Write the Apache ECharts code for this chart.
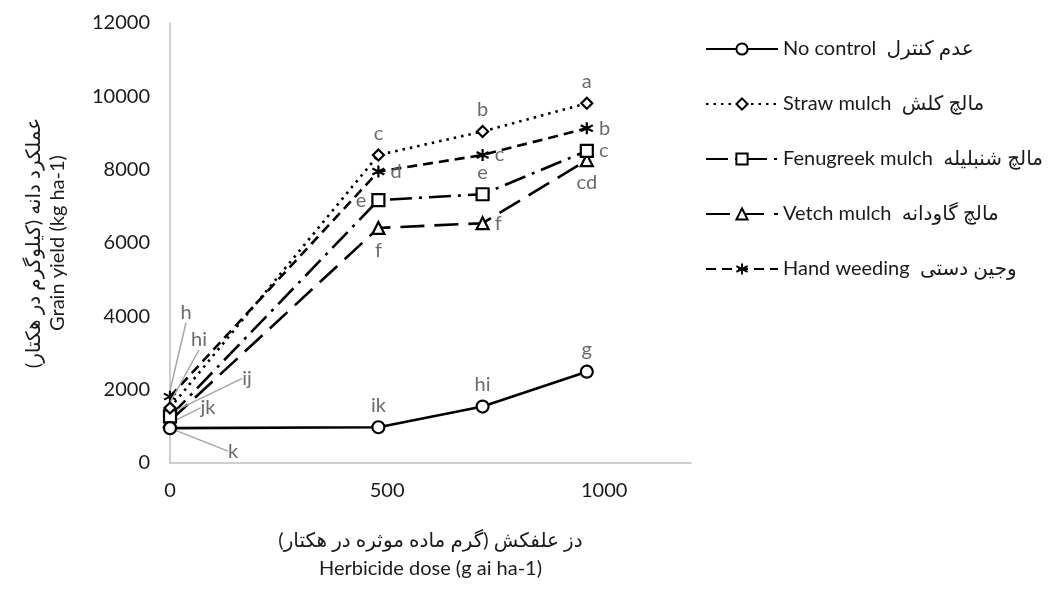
<!DOCTYPE html>
<html>
<head>
<meta charset="utf-8">
<script src="https://cdn.jsdelivr.net/npm/echarts@6/dist/echarts.min.js"></script>
<style>html,body{margin:0;padding:0;background:#fff}#c{width:1051px;height:592px}</style>
</head>
<body>
<div id="c"></div>
<script>
// ---- data ----
var doses = [0, 480, 720, 960];
var seriesEn = ['No control', 'Straw mulch', 'Fenugreek mulch', 'Vetch mulch', 'Hand weeding'];
var seriesFa = ['عدم کنترل', 'مالچ کلش', 'مالچ شنبلیله', 'مالچ گاودانه', 'وجین دستی'];
var noControl   = [950, 975, 1540, 2490];
var strawMulch  = [1500, 8400, 9040, 9810];
var fenugreek   = [1270, 7170, 7330, 8510];
var vetch       = [1150, 6410, 6540, 8260];
var handWeeding = [1810, 7950, 8400, 9130];
var lettersNoControl = ['k', 'ik', 'hi', 'g'];
var lettersStraw     = ['hi', 'c', 'b', 'a'];
var lettersFenugreek = ['ij', 'e', 'e', 'c'];
var lettersVetch     = ['jk', 'f', 'f', 'cd'];
var lettersHand      = ['h', 'd', 'c', 'b'];
var xTicks = [0, 500, 1000];
var yTicks = [0, 2000, 4000, 6000, 8000, 10000, 12000];
var xTitle = 'دز علفکش (گرم ماده موثره در هکتار)\nHerbicide dose (g ai ha-1)';
var yTitle = 'عملکرد دانه (کیلوگرم در هکتار)\nGrain yield (kg ha-1)';

// ---- styling / layout ----
var FONT = "Lato, 'DejaVu Sans', sans-serif";
var LBL = '#6b6b6b';
var values = [noControl, strawMulch, fenugreek, vetch, handWeeding];
var letters = [lettersNoControl, lettersStraw, lettersFenugreek, lettersVetch, lettersHand];
var symbols = ['circle', 'diamond', 'rect', 'triangle', 'path://M5,0L5,10M0.67,2.5L9.33,7.5M0.67,7.5L9.33,2.5'];
var symbolSizes = [12, 11, 12, 12, 12];
var dashes = ['solid', [2.5, 5], [22, 7, 3, 7], [24, 10], [10, 6]];
// label placement per series per point (index 0 handled by labelLayout with guide lines)
var placement = [
  [null, ['top', [10, 0]], ['top', [0, 0]], ['top', [0, 0]]],
  [null, ['top', [-4, 0]], ['top', [2, 0]], ['top', [6, 0]]],
  [null, ['left', [-12, 6]], ['top', [-12, 3]], ['right', [12, 0]]],
  [null, ['bottom', [3, 10]], ['right', [8, 0]], ['bottom', [7, 2]]],
  [null, ['right', [0, 11]], ['right', [12, 3]], ['right', [0, 0]]]
];
var zeroShift = [[63, 23], [29, -68], [77, -38], [38, -13], [16, -84]];

var series = values.map(function (vals, s) {
  return {
    name: seriesEn[s] + '  ' + seriesFa[s],
    type: 'line',
    z: 10 - s,
    data: vals.map(function (v, i) {
      var d = { value: [doses[i], v] };
      if (placement[s][i]) {
        d.label = { position: placement[s][i][0], offset: placement[s][i][1] };
        d.labelLine = { show: false };
      } else {
        d.label = { position: 'inside' };
        d.labelLine = { show: true };
      }
      return d;
    }),
    symbol: symbols[s],
    symbolSize: symbolSizes[s],
    showAllSymbol: true,
    lineStyle: { color: '#000', width: 2.6, type: dashes[s] },
    itemStyle: s === 4 ? { color: '#000', borderColor: '#000', borderWidth: 2.2 }
                       : { color: '#fff', borderColor: '#000', borderWidth: 2.2 },
    label: {
      show: true,
      formatter: function (p) { return letters[s][p.dataIndex]; },
      fontFamily: FONT, fontSize: 20, color: LBL
    },
    labelLine: { show: false, lineStyle: { color: '#a6a6a6', width: 1.5 } },
    labelLayout: function (p) {
      if (p.dataIndex === 0) {
        return { dx: zeroShift[s][0], dy: zeroShift[s][1] };
      }
      return {};
    },
    emphasis: { disabled: true },
    animation: false
  };
});

var chart = echarts.init(document.getElementById('c'), null, { renderer: 'canvas' });
chart.setOption({
  animation: false,
  backgroundColor: '#fff',
  grid: { left: 170, right: 360, top: 23, bottom: 129, containLabel: false },
  legend: {
    orient: 'vertical', left: 700, top: 34,
    itemWidth: 72, itemHeight: 14, itemGap: 35,
    textStyle: { fontFamily: FONT, fontSize: 20, color: '#1a1a1a' },
    data: series.map(function (s) { return s.name; })
  },
  xAxis: {
    type: 'value', min: 0, max: 1200, interval: 500,
    axisLine: { show: true, lineStyle: { color: '#bfbfbf', width: 1.5 } },
    axisTick: { show: false }, splitLine: { show: false },
    axisLabel: { fontFamily: FONT, fontSize: 20, color: '#1a1a1a', margin: 18, showMaxLabel: false,
      formatter: function (v) { return xTicks.indexOf(v) >= 0 ? String(v) : ''; } },
    name: xTitle, nameLocation: 'middle', nameGap: 64,
    nameTextStyle: { fontFamily: FONT, fontSize: 20, color: '#1a1a1a', lineHeight: 28 }
  },
  yAxis: {
    type: 'value', min: 0, max: 12000, interval: 2000,
    axisLine: { show: true, lineStyle: { color: '#bfbfbf', width: 1.5 } },
    axisTick: { show: false }, splitLine: { show: false },
    axisLabel: { fontFamily: FONT, fontSize: 20, color: '#1a1a1a', margin: 20,
      formatter: function (v) { return yTicks.indexOf(v) >= 0 ? String(v) : ''; } },
    name: yTitle, nameLocation: 'middle', nameGap: 100, nameRotate: 90,
    nameTextStyle: { fontFamily: FONT, fontSize: 20, color: '#1a1a1a', lineHeight: 24 }
  },
  series: series
});
</script>
</body>
</html>
